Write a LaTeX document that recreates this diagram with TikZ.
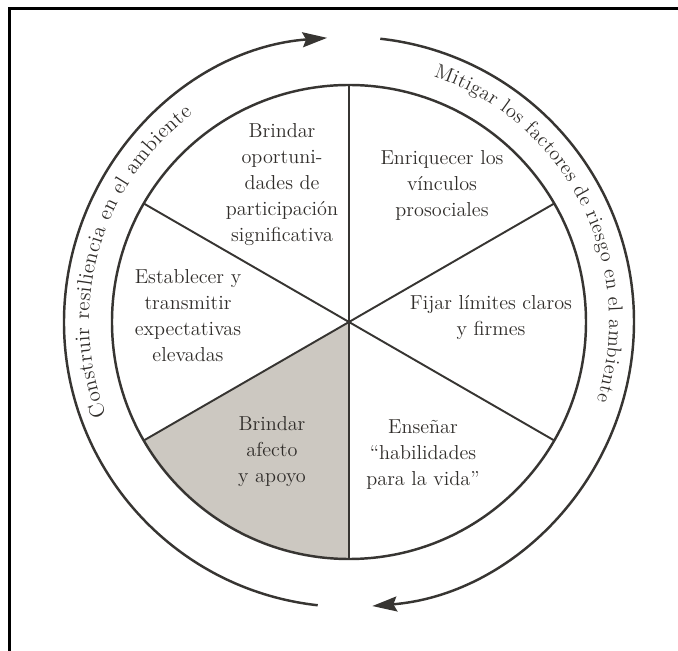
\documentclass[tikz,border=0pt]{standalone}
\usetikzlibrary{arrows.meta, decorations.text}
\definecolor{trazo}{RGB}{55,53,50}
\definecolor{letra}{RGB}{48,45,42}
\definecolor{sombra}{RGB}{204,200,193}
\tikzset{
  etiqueta/.style={align=center, text=letra, font=\fontsize{11.5}{14.8}\selectfont},
  borde/.style={draw=trazo, line width=1.4pt},
  radio/.style={draw=trazo, line width=1.1pt},
  flecha/.style={draw=trazo, line width=1.4pt, -{Stealth[length=14pt, width=8.5pt, inset=2pt]}},
  anillo/.style={decorate, decoration={text along path, text color=letra, text align={fit to path}, text={#1}}}
}

\begin{document}
\begin{tikzpicture}
        \useasboundingbox (-6.98,-6.58) rectangle (6.58,6.44);
        % Marco (solo se ven los lados superior e izquierdo)
        \draw[line width=1.7pt] (-6.79,-6.58) -- (-6.79,6.27) -- (6.58,6.27);

        % Sector sombreado
        \fill[sombra] (0,0) -- (210:4.74) arc[start angle=210, end angle=270, radius=4.74] -- cycle;

        % Circulo y radios
        \draw[borde] (0,0) circle (4.74);
        \foreach \a in {30,90,...,330}
            \draw[radio] (0,0) -- (\a:4.74);

        % Flechas exteriores
        \draw[flecha] (263.7:5.7) arc[start angle=263.7, end angle=94.4, radius=5.7];
        \draw[flecha] (83.7:5.7) arc[start angle=83.7, end angle=-85.3, radius=5.7];

        % Textos sobre los arcos
        \path[anillo={|\fontsize{12}{14}\selectfont|Construir resiliencia en el ambiente}]
            (201:5.2) arc[start angle=201, end angle=127, radius=5.2];
        \path[anillo={|\fontsize{11.5}{14}\selectfont|Mitigar los factores de riesgo en el ambiente}]
            (71:5.2) arc[start angle=71, end angle=-17.5, radius=5.2];

        % Sectores
        \node[etiqueta] (oportunidades) at (-1.34,2.75) {Brindar\\oportuni-\\dades de\\participación\\significativa};
        \node[etiqueta] (vinculos) at (1.86,2.74) {Enriquecer los\\vínculos\\prosociales};
        \node[etiqueta] (expectativas) at (-3.22,0.12) {Establecer y\\transmitir\\expectativas\\elevadas};
        \node[etiqueta] (limites) at (2.84,0.08) {Fijar límites claros\\y firmes};
        \node[etiqueta] (afecto) at (-1.54,-2.6) {Brindar\\afecto\\y apoyo};
        \node[etiqueta] (habilidades) at (1.48,-2.66) {Enseñar\\“habilidades\\para la vida”};

    \end{tikzpicture}
\end{document}
